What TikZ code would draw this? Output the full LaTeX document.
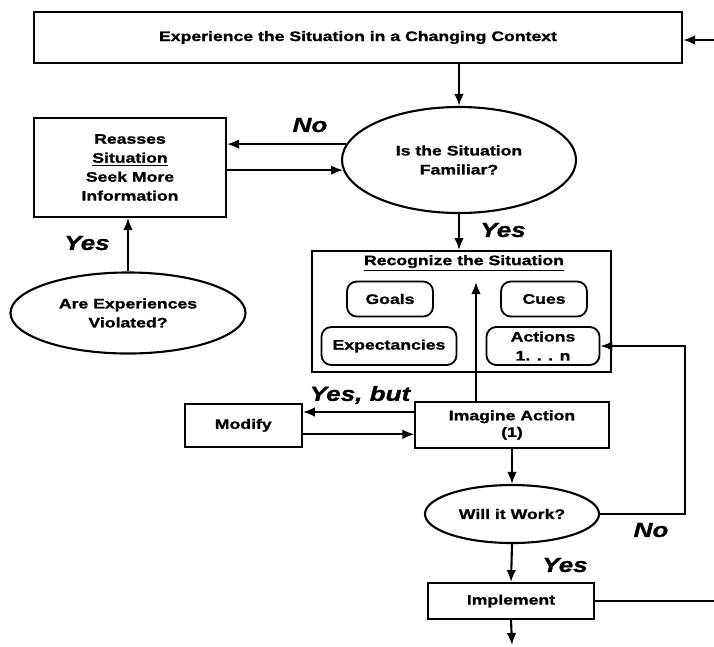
\documentclass[tikz,border=0pt]{standalone}
\usepackage{fontspec}
\setmainfont[FakeStretch=1.28,FakeBold=1.2]{Liberation Sans}
\usetikzlibrary{shapes.geometric,arrows.meta}

\tikzset{
  box/.style={draw,line width=1.4pt,align=center,inner sep=0pt},
  rbox/.style={draw,line width=1.3pt,rounded corners=7pt,align=center,inner sep=0pt},
  oval/.style={draw,ellipse,line width=1.5pt,align=center,inner sep=0pt},
  answer/.style={font=\fontsize{14.5}{16}\selectfont\bfseries\itshape},
}

\begin{document}
\begin{tikzpicture}[x=0.025cm,y=-0.025cm,line width=1.5pt,
    >={Latex[length=0.3cm,width=0.24cm]},
    font=\fontsize{9.8}{13.5}\selectfont\bfseries]
\useasboundingbox (0,0) rectangle (714,646);
\path
    (358,37.5) node [box,minimum width=16.2cm,minimum height=1.275cm] (context)
        {Experience the Situation in a Changing Context}
    (459,160) node [oval,minimum width=5.85cm,minimum height=2.65cm] (familiar)
        {Is the Situation\\Familiar?}
    (130,167.5) node [box,minimum width=4.8cm,minimum height=2.475cm] (reassess)
        {Reasses\\\underline{Situation}\\Seek More\\Information}
    (128,313) node [oval,minimum width=5.875cm,minimum height=2.025cm] (violated)
        {Are Experiences\\Violated?}
    (461.5,311.5) node [box,minimum width=7.475cm,minimum height=3.025cm] (recognize) {}
    (464,263) node (rectitle) {\underline{Recognize the Situation}}
    (390,299) node [rbox,minimum width=2.15cm,minimum height=0.875cm] (goals) {Goals}
    (544,299) node [rbox,minimum width=2.15cm,minimum height=0.875cm] (cues) {Cues}
    (389,346) node [rbox,minimum width=3.375cm,minimum height=0.95cm] (expect) {Expectancies}
    (543,346) node [rbox,minimum width=2.825cm,minimum height=0.95cm] (actions) {Actions\\1. . . n}
    (243.3,425.3) node [box,minimum width=2.925cm,minimum height=1.075cm] (modify) {Modify}
    (512,425) node [box,minimum width=4.825cm,minimum height=1.15cm,
        font=\fontsize{9.8}{11.8}\selectfont\bfseries] (imagine) {Imagine Action\\(1)}
    (512,514) node [oval,minimum width=4.35cm,minimum height=1.45cm] (work) {Will it Work?}
    (511,601) node [box,minimum width=4.15cm,minimum height=0.9cm] (implement) {Implement};

% free ends
\coordinate (feedin) at (714,40);
\coordinate (inside) at (476,282);
\coordinate (loop) at (685,0);
\coordinate (out) at (714,601);
\coordinate (down) at (512,645);
\coordinate (tomod) at ([yshift=0.325cm]imagine.west);
\coordinate (frommod) at ([yshift=-0.225cm]modify.east);

\draw (feedin) [->] -- (feedin -| context.east);
\draw (familiar.north |- context.south) [->] -- (familiar.north);
\draw (familiar.172) [->] -- (familiar.172 -| reassess.east);
\draw (reassess.east |- familiar.185) [->] -- (familiar.185);
\draw (violated.north) [->] -- (violated.north |- reassess.south);
\draw (familiar.south) [->] -- (familiar.south |- recognize.north);
\draw (inside |- imagine.north) [->] -- (inside);
\draw (tomod) [->] -- (tomod -| modify.east);
\draw (frommod) [->] -- (frommod -| imagine.west);
\draw (imagine.south) [->] -- (work.north);
\draw (work.east) [->] -| (loop |- actions.east) -- (actions.east);
\draw (work.south) [->] -- (implement.north);
\draw (implement.east) -- (out);
\draw (implement.south) [->] -- (down);

% answers
\node [answer] (nofam) at (310,125) {No};
\node [answer] (yesviol) at (87,243) {Yes};
\node [answer] (yesfam) at (503,230) {Yes};
\node [answer] (yesbut) at (360,395) {Yes, but};
\node [answer] (nowork) at (651,530) {No};
\node [answer] (yeswork) at (565,565) {Yes};
\end{tikzpicture}
\end{document}
